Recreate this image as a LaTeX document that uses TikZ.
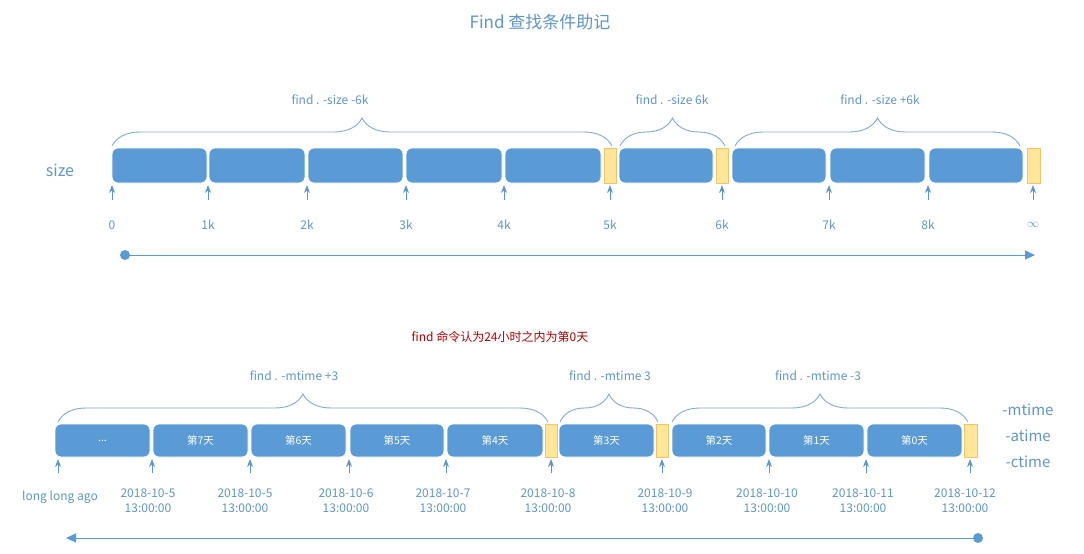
\documentclass[tikz,border=0pt]{standalone}
\usepackage{fontspec}
\setmainfont{Noto Sans CJK SC}
\usetikzlibrary{decorations.pathreplacing,arrows.meta}
\definecolor{bl}{HTML}{5B9BD5}
\definecolor{tx}{HTML}{5E96C8}
\definecolor{yl}{HTML}{FFE699}
\definecolor{yb}{HTML}{F2C46B}
\begin{document}
\begin{tikzpicture}[x=1pt,y=-1pt,
 blk/.style={fill=bl,draw=white,line width=0.8pt,rounded corners=6pt,text=white,font=\fontsize{10.5}{12}\selectfont},
 ybox/.style={fill=yl,draw=yb,line width=0.6pt},
 tk/.style={draw=tx,line width=1pt,-{Stealth[length=8pt,width=6pt]}},
 lab/.style={text=tx,font=\fontsize{12}{15}\selectfont,align=center},
 brc/.style={draw=tx!80,line width=0.9pt,decorate,decoration={brace,amplitude=28pt,aspect=0.5}}]
\useasboundingbox (0,0) rectangle (1084,554);
\node[text=tx,font=\fontsize{17}{20}\selectfont] (title) at (540,22) {Find 查找条件助记};
\node[text=tx,font=\fontsize{16}{18}\selectfont] (size) at (60,170) {size};
% top blocks
\foreach \a/\b in {112/207,209/305,308/403,406/502,505/601,619/713,732/826,830/925,929/1023}
  \draw[blk] (\a,148) rectangle (\b,183);
\foreach \a/\b in {604/616,716/728,1027/1040} \draw[ybox] (\a,148) rectangle (\b,183);
\foreach \x/\l in {112/0,208/1k,307/2k,406/3k,504/4k,610/5k,722/6k,829/7k,928/8k,1033/$\infty$}{
  \coordinate (a\x) at (\x,200); \coordinate (b\x) at (\x,185);
  \draw[tk] (a\x) -- (b\x);
  \node[lab] at (\x,225) {\l};}
\coordinate (s0) at (125,255); \coordinate (s1) at (1035,255);
\fill[bl] (s0) circle (5);
\draw[bl,line width=1pt,-{Triangle[length=10pt,width=9pt]}] (s0) -- (s1);
\draw[brc] (112,146) -- (612,146);
\draw[brc] (620,146) -- (725,146);
\draw[brc] (735,146) -- (1020,146);
\node[lab] at (330,100) {find . -size -6k};
\node[lab] at (672,100) {find . -size 6k};
\node[lab] at (880,100) {find . -size +6k};
% bottom
\node[text=red!70!black,font=\fontsize{12}{14}\selectfont] (note) at (500,337) {find 命令认为24小时之内为第0天};
\foreach \a/\b/\t in {55/150/{...},153/248/第7天,251/346/第6天,350/444/第5天,447/543/第4天,559/654/第3天,672/766/第2天,769/864/第1天,867/962/第0天}
  \draw[blk] (\a,424) rectangle node{\t} (\b,457);
\foreach \a/\b in {545/557,656/668,964/977} \draw[ybox] (\a,424) rectangle (\b,457);
\foreach \x in {58,152,250,349,446,551,662,769,866,970}{
  \coordinate (c\x) at (\x,473); \coordinate (d\x) at (\x,459);
  \draw[tk] (c\x) -- (d\x);}
\node[lab] at (60,497) {long long ago};
\foreach \x/\d in {148/2018-10-5,245/2018-10-5,346/2018-10-6,443/2018-10-7,548/2018-10-8,665/2018-10-9,767/2018-10-10,863/2018-10-11,965/2018-10-12}
  \node[lab] at (\x,501) {\d\\13:00:00};
\coordinate (e0) at (978,538); \coordinate (e1) at (66,538);
\fill[bl] (e0) circle (5);
\draw[bl,line width=1pt,-{Triangle[length=10pt,width=9pt]}] (e0) -- (e1);
\draw[brc] (58,422) -- (548,422);
\draw[brc] (560,422) -- (658,422);
\draw[brc] (672,422) -- (968,422);
\node[lab] at (294,376) {find . -mtime +3};
\node[lab] at (610,376) {find . -mtime 3};
\node[lab] at (818,376) {find . -mtime -3};
\node[lab,font=\fontsize{15}{17}\selectfont] at (1028,410) {-mtime};
\node[lab,font=\fontsize{15}{17}\selectfont] at (1028,436) {-atime};
\node[lab,font=\fontsize{15}{17}\selectfont] at (1028,462) {-ctime};
\end{tikzpicture}
\end{document}
